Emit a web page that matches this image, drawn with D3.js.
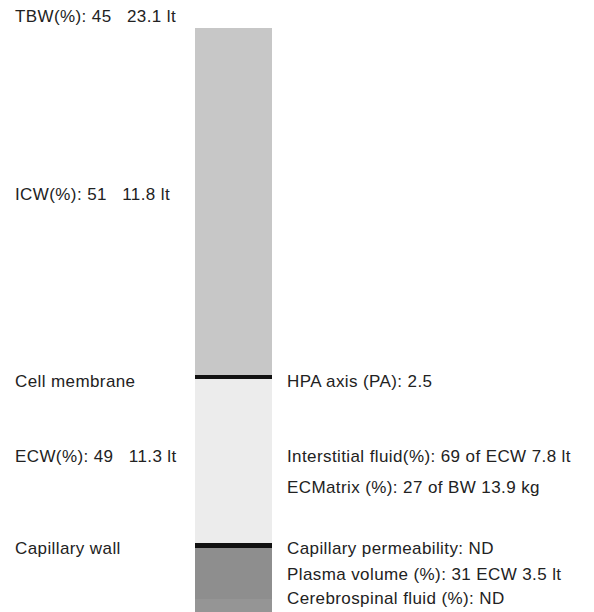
<!DOCTYPE html>
<html lang="en">
<head>
    <meta charset="UTF-8">
    <title>Body water compartments</title>
    <script src="https://d3js.org/d3.v7.min.js"></script>
    <style>
        body { margin: 0; background: #fff; }
        .label {
            font-family: "Liberation Sans", Arial, sans-serif;
            font-size: 17px;
            letter-spacing: 0.4px;
            fill: #222;
            white-space: pre;
        }
    </style>
</head>
<body>

<script>
    // bar segments, top to bottom (sizes in arbitrary units)
    var segments = ["ICW", "Cell membrane", "ECW", "Capillary wall", "Plasma", "CSF"];
    var segmentSizes = [347, 4, 164, 5, 51, 13];

    // text down the left side, with the unit position where each sits
    var leftLabels = ["TBW(%): 45   23.1 lt", "ICW(%): 51   11.8 lt", "Cell membrane", "ECW(%): 49   11.3 lt", "Capillary wall"];
    var leftAt = [-6, 172, 359, 434, 526];

    // text down the right side
    var rightLabels = ["HPA axis (PA): 2.5", "Interstitial fluid(%): 69 of ECW 7.8 lt", "ECMatrix (%): 27 of BW 13.9 kg",
        "Capillary permeability: ND", "Plasma volume (%): 31 ECW 3.5 lt", "Cerebrospinal fluid (%): ND"];
    var rightAt = [359, 434, 465, 526, 552, 576];

    var w = 594, h = 612;
    var padding = { top: 28, left: 15 };
    var barX = 195, barW = 77, textRightX = 287;

    var color = d3.scaleOrdinal()
        .domain(segments)
        .range(["#c7c7c7", "#111111", "#ececec", "#111111", "#8e8e8e", "#959595"]);

    // stack the segments
    var stacked = [];
    var acc = 0;
    segments.forEach(function(s, i) {
        stacked.push({ name: s, start: acc, end: acc + segmentSizes[i] });
        acc += segmentSizes[i];
    });

    var y = d3.scaleLinear().domain([0, acc]).range([padding.top, h]);

    var svg = d3.select("body")
        .append("svg")
        .attr("width", w)
        .attr("height", h);

    svg.append("g")
        .selectAll("rect")
        .data(stacked)
        .enter()
        .append("rect")
        .attr("x", barX)
        .attr("y", d => y(d.start))
        .attr("width", barW)
        .attr("height", d => y(d.end) - y(d.start))
        .attr("fill", d => color(d.name));

    svg.append("g")
        .selectAll("text")
        .data(leftLabels)
        .enter()
        .append("text")
        .attr("class", "label")
        .attr("x", padding.left)
        .attr("y", (d, i) => y(leftAt[i]))
        .text(d => d);

    svg.append("g")
        .selectAll("text")
        .data(rightLabels)
        .enter()
        .append("text")
        .attr("class", "label")
        .attr("x", textRightX)
        .attr("y", (d, i) => y(rightAt[i]))
        .text(d => d);
</script>

</body>
</html>
